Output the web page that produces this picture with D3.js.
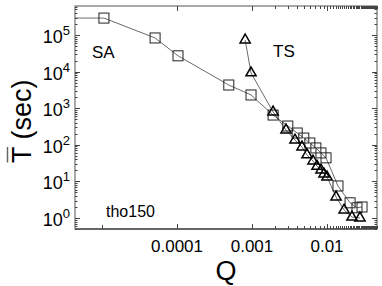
<!DOCTYPE html>
<html>
<head>
<meta charset="utf-8">
<script src="https://cdn.jsdelivr.net/npm/d3@7"></script>
<style>
  body { margin: 0; background: #fff; }
  text { font-family: "Liberation Sans", Arial, Helvetica, sans-serif; fill: #000; }
</style>
</head>
<body>
<svg id="chart" width="382" height="286"></svg>
<script>
// SA series (squares)
let saQ = [1e-6, 1.06e-5, 5.1e-5, 1.03e-4, 4.9e-4, 9.7e-4, 1.91e-3, 3.0e-3, 4.0e-3, 4.9e-3, 5.9e-3, 7.1e-3, 8.3e-3, 9.7e-3, 0.0140, 0.0203, 0.0251, 0.0293];
let saT = [2.9e5, 2.9e5, 8.3e4, 2.7e4, 4.3e3, 2.3e3, 650, 326, 210, 153, 112, 82, 60, 44, 7.5, 2.6, 1.9, 2.0];

// TS series (triangles)
let tsQ = [8.1e-4, 9.7e-4, 1.91e-3, 2.84e-3, 3.74e-3, 4.64e-3, 5.41e-3, 6.5e-3, 7.36e-3, 8.32e-3, 9.12e-3, 0.010, 0.0132, 0.0169, 0.0215, 0.0275];
let tsT = [7.3e4, 9.2e3, 790, 254, 135, 87, 53, 36, 26, 20.5, 15.9, 13.2, 3.75, 1.65, 1.06, 1.0];

// axes
let xDomain = [4.36e-6, 0.0464];
let yDomain = [0.5, 6.2e5];
let xMajor = [1e-5, 1e-4, 1e-3, 1e-2];
let xLabels = ["", "0.0001", "0.001", "0.01"];
let yMajor = [1, 10, 100, 1000, 1e4, 1e5];
let yExp = ["0", "1", "2", "3", "4", "5"];

// minor ticks: x every 0.001, y log 2..9
let xMinor = d3.range(2, 47).map((k) => { return k * 0.001; }).filter((v) => { return v !== 0.01; });
let yMinor = [];
d3.range(-1, 6).forEach((e) => {
  d3.range(2, 10).forEach((m) => { yMinor.push(m * Math.pow(10, e)); });
});

let margin = {left: 75, right: 377, top: 6, bottom: 229};

let x = d3.scaleLog().domain(xDomain).range([margin.left, margin.right]);
let y = d3.scaleLog().domain(yDomain).range([margin.bottom, margin.top]);

let svg = d3.select("#chart");

svg.append("defs").append("clipPath").attr("id", "clip")
  .append("rect")
  .attr("x", margin.left).attr("y", margin.top)
  .attr("width", margin.right - margin.left)
  .attr("height", margin.bottom - margin.top);

// Frame
svg.append("rect")
  .attr("x", margin.left).attr("y", margin.top)
  .attr("width", margin.right - margin.left)
  .attr("height", margin.bottom - margin.top)
  .attr("fill", "none").attr("stroke", "#555").attr("stroke-width", 1);

svg.append("line")
  .attr("x1", margin.left).attr("x2", margin.right)
  .attr("y1", margin.bottom).attr("y2", margin.bottom)
  .attr("stroke", "#666").attr("stroke-width", 2);

// Ticks (inward, all 4 sides)
let ticks = svg.append("g").attr("stroke", "#444").attr("stroke-width", 1);

let drawX = function(vals, len, bottomOnly) {
  vals.filter((v) => { return v >= xDomain[0] && v <= xDomain[1]; }).forEach((v) => {
    let px = Math.round(x(v)) + 0.5;
    ticks.append("line").attr("x1", px).attr("x2", px)
      .attr("y1", margin.bottom).attr("y2", margin.bottom - len);
    if (!bottomOnly) {
      ticks.append("line").attr("x1", px).attr("x2", px)
        .attr("y1", margin.top).attr("y2", margin.top + len);
    }
  });
};

let drawY = function(vals, len) {
  vals.filter((v) => { return v >= yDomain[0] && v <= yDomain[1]; }).forEach((v) => {
    let py = Math.round(y(v)) + 0.5;
    ticks.append("line").attr("y1", py).attr("y2", py)
      .attr("x1", margin.left).attr("x2", margin.left + len);
    ticks.append("line").attr("y1", py).attr("y2", py)
      .attr("x1", margin.right).attr("x2", margin.right - len);
  });
};

drawX(xMajor.slice(0, 1), 4, true);
drawX(xMajor.slice(1), 5, false);
drawX(xMinor, 3, false);
drawY(yMajor, 5);
drawY(yMinor, 2.5);

// Tick labels
svg.append("g").selectAll("text")
  .data(xMajor).enter()
  .append("text")
  .attr("x", (d) => { return x(d); })
  .attr("y", 252)
  .attr("text-anchor", "middle")
  .attr("font-size", 17)
  .text((d, i) => { return xLabels[i]; });

let ylab = svg.append("g").selectAll("text")
  .data(yMajor).enter()
  .append("text")
  .attr("x", 70)
  .attr("y", (d) => { return y(d) + 8; })
  .attr("text-anchor", "end")
  .attr("font-size", 18);
ylab.append("tspan").text("10");
ylab.append("tspan")
  .attr("font-size", 13)
  .attr("dy", -8)
  .text((d, i) => { return yExp[i]; });

// Axis titles
svg.append("text")
  .attr("x", (margin.left + margin.right) / 2)
  .attr("y", 280)
  .attr("text-anchor", "middle")
  .attr("font-size", 27)
  .text("Q");

let ytitle = svg.append("g").attr("transform", "translate(31,163) rotate(-90)");
let tT = ytitle.append("text")
  .attr("x", 0).attr("y", 0)
  .attr("font-size", 27)
  .text("T (sec)");
let tw = 27 * 0.611;
ytitle.append("line")
  .attr("x1", 0.5).attr("x2", tw - 0.5)
  .attr("y1", -23.5).attr("y2", -23.5)
  .attr("stroke", "#666").attr("stroke-width", 1.5);

// Annotations
svg.append("text").attr("x", 92).attr("y", 58).attr("font-size", 17).text("SA");
svg.append("text").attr("x", 273).attr("y", 57).attr("font-size", 17).text("TS");
svg.append("text").attr("x", 106).attr("y", 217).attr("font-size", 16).text("tho150");

// Series
let plot = svg.append("g").attr("clip-path", "url(#clip)");

let line = d3.line()
  .x((d) => { return x(d[0]); })
  .y((d) => { return y(d[1]); });

let sa = saQ.map((q, i) => { return [q, saT[i]]; });
let ts = tsQ.map((q, i) => { return [q, tsT[i]]; });

plot.append("path").datum(sa)
  .attr("d", line)
  .attr("fill", "none").attr("stroke", "#444").attr("stroke-width", 0.8);

plot.append("path").datum(ts)
  .attr("d", line)
  .attr("fill", "none").attr("stroke", "#444").attr("stroke-width", 0.8);

plot.selectAll("rect.sq")
  .data(sa).enter()
  .append("rect")
  .attr("class", "sq")
  .attr("x", (d) => { return x(d[0]) - 5; })
  .attr("y", (d) => { return y(d[1]) - 5; })
  .attr("width", 10).attr("height", 10)
  .attr("fill", "none").attr("stroke", "#222").attr("stroke-width", 1);

let tri = d3.symbol().type(d3.symbolTriangle).size(45);
plot.selectAll("path.tri")
  .data(ts).enter()
  .append("path")
  .attr("class", "tri")
  .attr("d", tri)
  .attr("transform", (d) => { return `translate(${x(d[0])},${y(d[1])})`; })
  .attr("fill", "none").attr("stroke", "#000").attr("stroke-width", 1.5);
</script>
</body>
</html>
